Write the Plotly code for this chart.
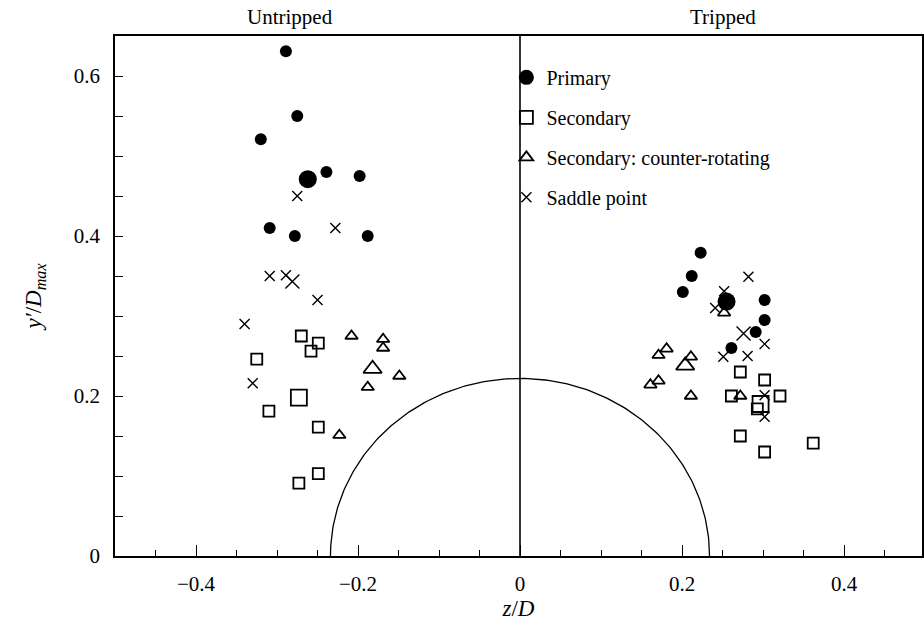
import numpy as np
import plotly.graph_objects as go

# ---- vortex positions (z/D, y'/D_max) ----
# Untripped side (z < 0)
untr_primary_z = [-0.289, -0.275, -0.320, -0.239, -0.198, -0.309, -0.278, -0.188]
untr_primary_y = [0.631, 0.550, 0.521, 0.480, 0.475, 0.410, 0.400, 0.400]
untr_secondary_z = [-0.270, -0.249, -0.258, -0.325, -0.310, -0.249, -0.249, -0.273]
untr_secondary_y = [0.275, 0.266, 0.256, 0.246, 0.181, 0.161, 0.103, 0.091]
untr_counter_z = [-0.208, -0.169, -0.169, -0.149, -0.188, -0.223]
untr_counter_y = [0.275, 0.271, 0.260, 0.225, 0.211, 0.151]
untr_saddle_z = [-0.275, -0.228, -0.309, -0.289, -0.250, -0.340, -0.330]
untr_saddle_y = [0.450, 0.410, 0.350, 0.351, 0.320, 0.290, 0.216]

# Tripped side (z > 0)
trip_primary_z = [0.223, 0.212, 0.201, 0.302, 0.302, 0.291, 0.261]
trip_primary_y = [0.379, 0.350, 0.330, 0.320, 0.295, 0.280, 0.260]
trip_secondary_z = [0.272, 0.302, 0.261, 0.321, 0.293, 0.272, 0.302, 0.362]
trip_secondary_y = [0.230, 0.220, 0.200, 0.200, 0.184, 0.150, 0.130, 0.141]
trip_counter_z = [0.252, 0.181, 0.171, 0.211, 0.171, 0.161, 0.211, 0.272]
trip_counter_y = [0.304, 0.259, 0.251, 0.249, 0.219, 0.214, 0.200, 0.200]
trip_saddle_z = [0.282, 0.252, 0.241, 0.302, 0.251, 0.281, 0.302, 0.302]
trip_saddle_y = [0.349, 0.331, 0.310, 0.265, 0.249, 0.250, 0.201, 0.174]

# Mean positions (drawn larger), order: primary, secondary, counter, saddle
mean_untr_z = [-0.262, -0.273, -0.182, -0.281]
mean_untr_y = [0.471, 0.198, 0.234, 0.343]
mean_trip_z = [0.255, 0.297, 0.204, 0.276]
mean_trip_y = [0.318, 0.190, 0.238, 0.278]

series_names = ["Primary", "Secondary", "Secondary: counter-rotating", "Saddle point"]
side_labels = ["Untripped", "Tripped"]
side_label_z = [-0.284, 0.250]

# body cross-section outline (semi-axes in z/D and y'/D_max)
body_half_width = 0.234
body_height = 0.222

FONT = "Liberation Serif"
symbols = ["circle", "square-open", "triangle-up-open", "x-thin-open"]
small_sizes = [12, 11, 11, 10]
big_sizes = [18, 16, 16, 14]
legend_sizes = [15, 13, 12, 10]

groups = [
    (untr_primary_z + trip_primary_z, untr_primary_y + trip_primary_y),
    (untr_secondary_z + trip_secondary_z, untr_secondary_y + trip_secondary_y),
    (untr_counter_z + trip_counter_z, untr_counter_y + trip_counter_y),
    (untr_saddle_z + trip_saddle_z, untr_saddle_y + trip_saddle_y),
]

fig = go.Figure()

# body outline and symmetry plane
theta = np.linspace(0, np.pi, 200)
fig.add_trace(go.Scatter(x=body_half_width * np.cos(theta), y=body_height * np.sin(theta),
                         mode="lines", line=dict(color="black", width=1.3),
                         showlegend=False, hoverinfo="skip"))
fig.add_trace(go.Scatter(x=[0, 0], y=[0, 0.65], mode="lines",
                         line=dict(color="black", width=1.6),
                         showlegend=False, hoverinfo="skip"))


def line_width(sym):
    if sym == "circle":
        return 0
    if sym.startswith("x"):
        return 1.4
    return 1.8


for i, (zs, ys) in enumerate(groups):
    lw = line_width(symbols[i])
    fig.add_trace(go.Scatter(
        x=zs, y=ys, mode="markers", showlegend=False,
        marker=dict(symbol=symbols[i], size=small_sizes[i], color="black",
                    line=dict(color="black", width=lw)),
    ))
    fig.add_trace(go.Scatter(
        x=[mean_untr_z[i], mean_trip_z[i]], y=[mean_untr_y[i], mean_trip_y[i]],
        mode="markers", showlegend=False,
        marker=dict(symbol=symbols[i], size=big_sizes[i], color="black",
                    line=dict(color="black", width=lw)),
    ))
    # legend key for this category
    fig.add_trace(go.Scatter(
        x=[None], y=[None], mode="markers", name=series_names[i],
        legendgroup=series_names[i],
        marker=dict(symbol=symbols[i], size=legend_sizes[i], color="black",
                    line=dict(color="black", width=lw)),
    ))

for lab, zx in zip(side_labels, side_label_z):
    fig.add_annotation(x=zx, xref="x", y=1.0, yref="paper", yanchor="bottom", yshift=5,
                       text=lab, showarrow=False,
                       font=dict(family=FONT, size=21, color="black"))

axis_common = dict(showline=True, linecolor="black", linewidth=1.5, mirror=True,
                   ticks="inside", tickcolor="black", showgrid=False, zeroline=False,
                   tickfont=dict(family=FONT, size=21, color="black"))

fig.update_xaxes(range=[-0.5, 0.4963], dtick=0.2, tick0=0, ticklen=11, tickwidth=1.3,
                 ticklabelstandoff=8,
                 minor=dict(dtick=0.05, ticklen=6, ticks="inside", tickcolor="black", tickwidth=1.1),
                 title=dict(text="<i>z</i>/<i>D</i>", font=dict(family=FONT, size=23, color="black"),
                            standoff=4),
                 **axis_common)
fig.update_yaxes(range=[0, 0.65], dtick=0.2, tick0=0, ticklen=8, tickwidth=1.3,
                 ticklabelstandoff=9,
                 minor=dict(dtick=0.05, ticklen=8, ticks="inside", tickcolor="black", tickwidth=1.1),
                 title=dict(text="<i>y′</i>/<i>D</i><sub><i>max</i></sub>",
                            font=dict(family=FONT, size=23, color="black"), standoff=26),
                 **axis_common)

fig.update_layout(
    width=924, height=626,
    margin=dict(l=115, r=0, t=36, b=70),
    paper_bgcolor="white", plot_bgcolor="white",
    font=dict(family=FONT, color="black"),
    legend=dict(x=0.485, y=0.958, xanchor="left", yanchor="top",
                font=dict(family=FONT, size=20, color="black"),
                tracegroupgap=11, bgcolor="rgba(0,0,0,0)", itemsizing="trace"),
)

fig.write_html("out.html")
